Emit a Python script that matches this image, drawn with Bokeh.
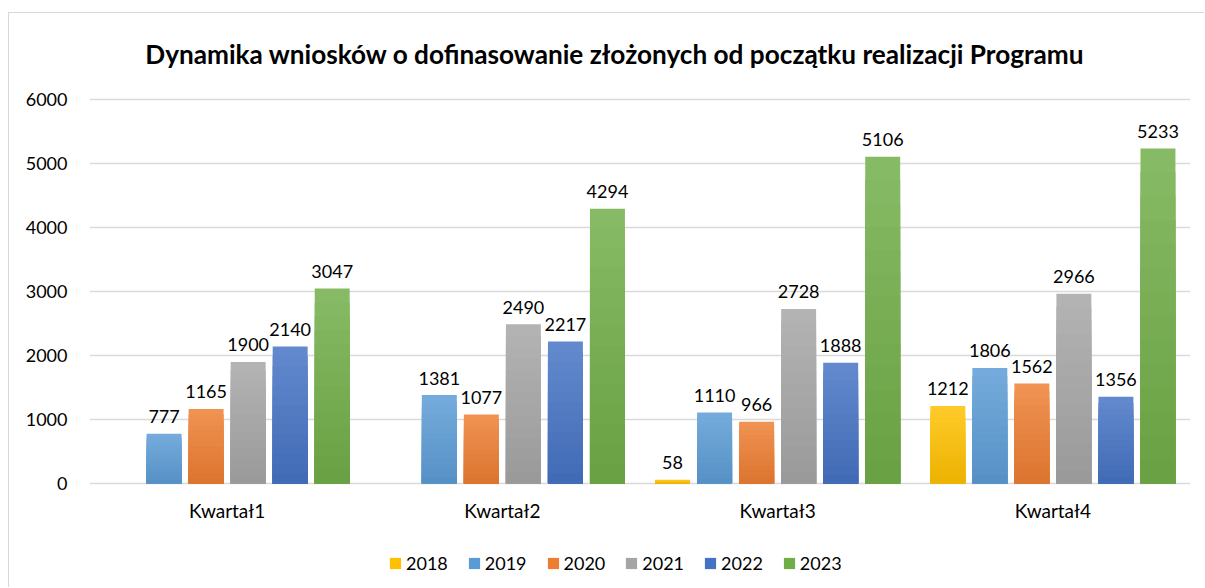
from bokeh.plotting import figure
from bokeh.models import (ColumnDataSource, FactorRange, Range1d, Legend, LegendItem,
                          FixedTicker)
from bokeh.transform import dodge
from bokeh.embed import file_html
from bokeh.resources import INLINE
from bokeh.core.properties import value

quarters = ["Kwartał1", "Kwartał2", "Kwartał3", "Kwartał4"]
years = ["2018", "2019", "2020", "2021", "2022", "2023"]
v2018 = [None, None, 58, 1212]
v2019 = [777, 1381, 1110, 1806]
v2020 = [1165, 1077, 966, 1562]
v2021 = [1900, 2490, 2728, 2966]
v2022 = [2140, 2217, 1888, 1356]
v2023 = [3047, 4294, 5106, 5233]
series = [v2018, v2019, v2020, v2021, v2022, v2023]
y_ticks = [0, 1000, 2000, 3000, 4000, 5000, 6000]
colors = ["#FFC000", "#5B9BD5", "#ED7D31", "#A5A5A5", "#4472C4", "#70AD47"]
title_text = "Dynamika wniosków o dofinasowanie złożonych od początku realizacji Programu"

FONT = "Lato"

# geometry (pixels)
W, H = 1196, 575
B_LEFT, B_RIGHT, B_TOP, B_BOTTOM = 80, 15, 4, 4
PX_PER_1000 = 64.0
GRID_TOP_PX = 86          # distance from figure top to the 6000 grid line
GRID_BOTTOM_PX = 105      # distance from the 0 grid line to figure bottom
y_top = 6000 + (GRID_TOP_PX - B_TOP) * 1000.0 / PX_PER_1000
y_bottom = 0 - (GRID_BOTTOM_PX - B_BOTTOM) * 1000.0 / PX_PER_1000


def hex2rgb(h):
    h = h.lstrip("#")
    return tuple(int(h[i:i + 2], 16) for i in (0, 2, 4))


def mix(c, other, t):
    a = hex2rgb(c)
    return "#%02x%02x%02x" % tuple(int(round(a[i] + (other[i] - a[i]) * t)) for i in range(3))


p = figure(width=W, height=H, x_range=FactorRange(*quarters, range_padding=0),
           y_range=Range1d(y_bottom, y_top), output_backend="svg", toolbar_location=None,
           min_border_left=B_LEFT, min_border_right=B_RIGHT,
           min_border_top=B_TOP, min_border_bottom=B_BOTTOM)
p.outline_line_color = None
p.background_fill_color = "white"
p.border_fill_color = "white"
p.styles = {"border-left": "1px solid #D9D9D9", "border-top": "1px solid #D9D9D9",
            "margin-left": "8px", "margin-top": "12px"}

p.xaxis.visible = False
p.xgrid.grid_line_color = None
p.ygrid.grid_line_color = "#D9D9D9"
p.ygrid.grid_line_width = 1.5
p.yaxis.ticker = FixedTicker(ticks=y_ticks)
p.ygrid.ticker = FixedTicker(ticks=y_ticks)
p.yaxis.axis_line_color = None
p.yaxis.major_tick_line_color = None
p.yaxis.minor_tick_line_color = None
p.yaxis.major_label_text_font = FONT
p.yaxis.major_label_text_font_size = "18px"
p.yaxis.major_label_text_color = "#000000"
p.yaxis.major_label_standoff = 16

# chart title, centred slightly left of the plot centre, above the top grid line
tsrc = ColumnDataSource(dict(x=[quarters[1]], y=[y_ticks[-1]], t=[title_text]))
p.text(x=dodge("x", 0.5, range=p.x_range), y="y", text="t", source=tsrc,
       text_align="center", text_baseline="alphabetic", x_offset=-25, y_offset=-46,
       text_font=value(FONT), text_font_size="26.2px", text_font_style="bold",
       text_color="#000000")

step = 0.1527
width = 0.127
N = 14
items = []
for i, (yr, vals, col) in enumerate(zip(years, series, colors)):
    qs = [q for q, v in zip(quarters, vals) if v is not None]
    vs = [v for v in vals if v is not None]
    off = (i - 2.5) * step
    xs = dodge("q", off, range=p.x_range)
    top_c = mix(col, (255, 255, 255), 0.16)
    bot_c = mix(col, (0, 0, 0), 0.08)
    for k in range(N, 0, -1):
        frac = k / N
        ca = hex2rgb(bot_c)
        cb = hex2rgb(top_c)
        c = "#%02x%02x%02x" % tuple(int(round(ca[j] + (cb[j] - ca[j]) * frac)) for j in range(3))
        src = ColumnDataSource(dict(q=qs, v=[v * frac for v in vs]))
        p.vbar(x=xs, top="v", bottom=0, width=width, source=src,
               fill_color=c, line_color=None)
    lsrc = ColumnDataSource(dict(q=qs, v=vs, lbl=[str(v) for v in vs]))
    p.text(x=xs, y="v", text="lbl", source=lsrc,
           text_align="center", text_baseline="alphabetic", y_offset=-17,
           text_font=value(FONT), text_font_size="18px", text_color="#000000")
    # zero-height bars, used only for the legend swatch
    leg_src = ColumnDataSource(dict(q=qs, v=[0] * len(qs)))
    lr = p.vbar(x=xs, top="v", bottom=0, width=width, source=leg_src,
                fill_color=col, line_color=None)
    items.append(LegendItem(label=yr, renderers=[lr]))

# category labels below the zero line
csrc = ColumnDataSource(dict(q=quarters, y=[0] * len(quarters)))
p.text(x="q", y="y", text="q", source=csrc, text_align="center", text_baseline="middle",
       y_offset=27, text_font=value(FONT), text_font_size="19px", text_color="#000000")

legend = Legend(items=items, orientation="horizontal", location=(299, 10),
                label_text_font=FONT, label_text_font_size="18px", label_text_color="#000000",
                glyph_width=14, glyph_height=14, spacing=19, label_standoff=4,
                border_line_color=None, background_fill_alpha=0, margin=0, padding=4)
p.add_layout(legend, "center")

open("out.html", "w").write(file_html(p, INLINE))
